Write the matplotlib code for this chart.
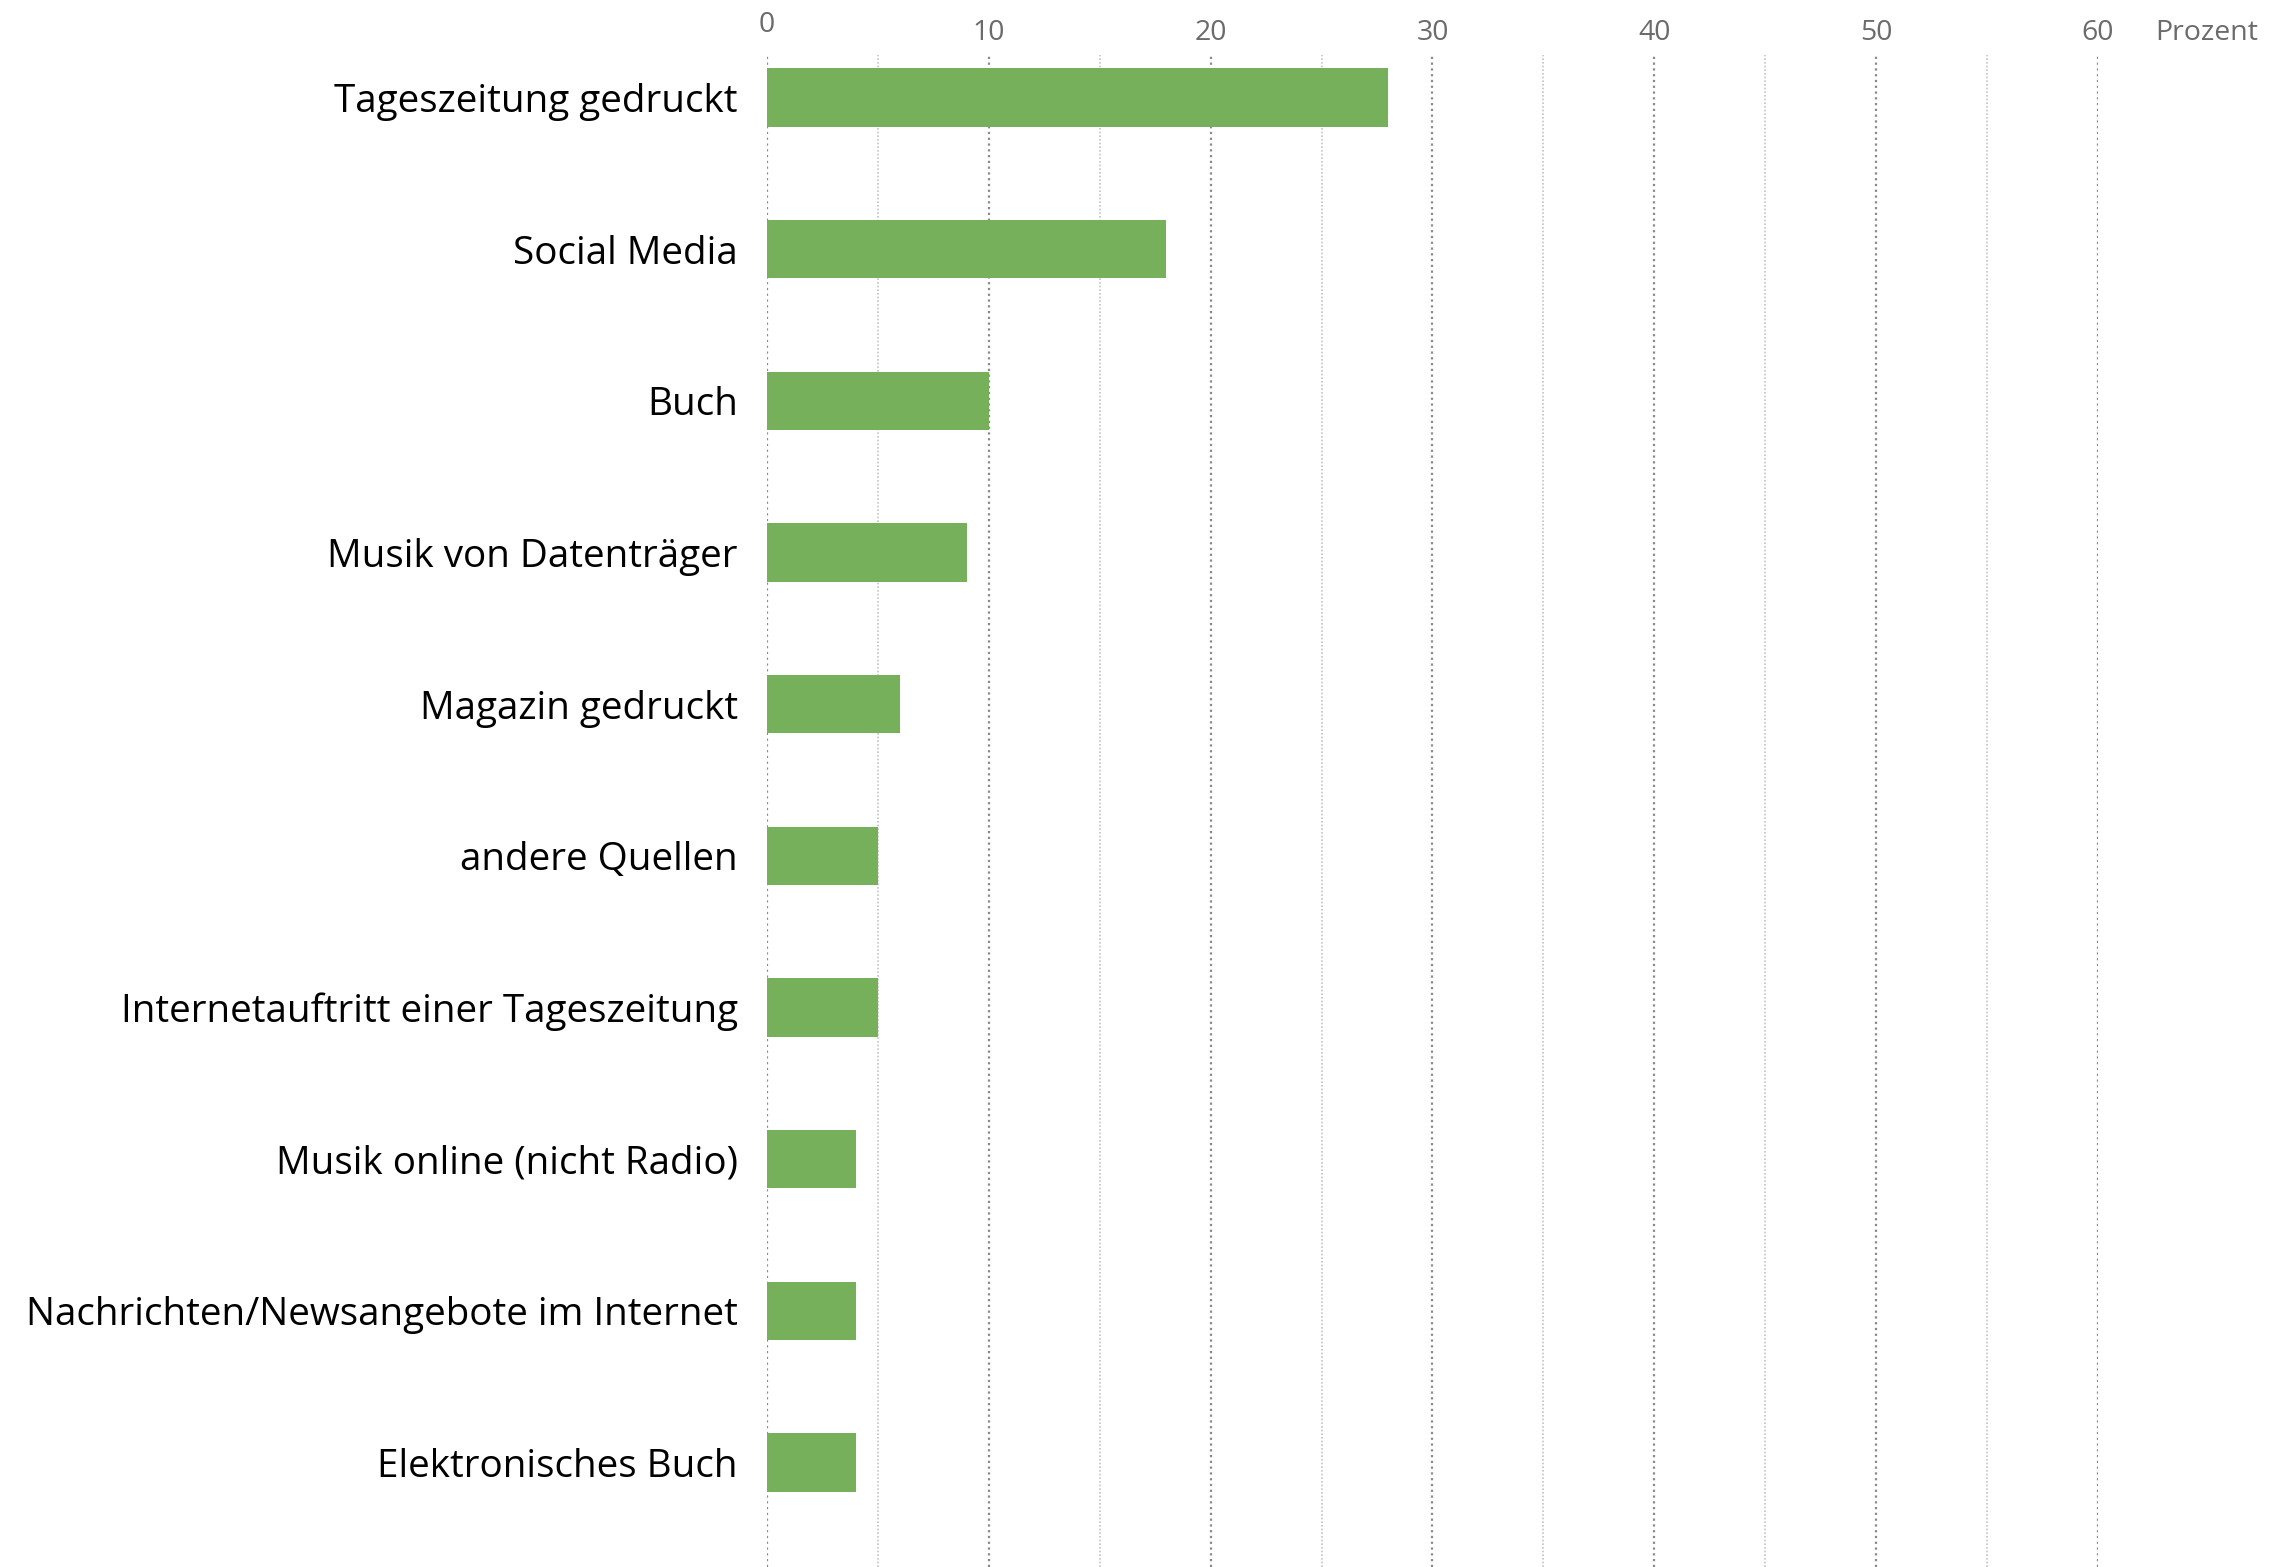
import numpy as np
import matplotlib.pyplot as plt
from matplotlib.transforms import blended_transform_factory, offset_copy

# Categories (top to bottom) and their values in percent
categories = [
    "Tageszeitung gedruckt",
    "Social Media",
    "Buch",
    "Musik von Datenträger",
    "Magazin gedruckt",
    "andere Quellen",
    "Internetauftritt einer Tageszeitung",
    "Musik online (nicht Radio)",
    "Nachrichten/Newsangebote im Internet",
    "Elektronisches Buch",
]
values = [28, 18, 10, 9, 6, 5, 5, 4, 4, 4]
major_ticks = [0, 10, 20, 30, 40, 50, 60]
minor_ticks = [5, 15, 25, 35, 45, 55]
unit_label = "Prozent"

plt.rcParams['font.family'] = ['Open Sans', 'DejaVu Sans']

fig = plt.figure(figsize=(22.81, 15.67), dpi=100)
ax = fig.add_axes([0.3362, 0.0, 0.9198 - 0.3362, 0.9649])

y = np.arange(len(categories))
ax.barh(y, values, height=0.385, color='#77b05a', zorder=3)

ax.set_xlim(0, 60)
ax.set_ylim(9.69, -0.28)

# dotted vertical grid lines
for v in major_ticks:
    ax.axvline(v, color='#8a8a8a', lw=1.6, ls=(0, (1, 1.6)), zorder=1)
for v in minor_ticks:
    ax.axvline(v, color='#c4c4c4', lw=1.2, ls=(0, (1, 1.2)), zorder=1)

for s in ax.spines.values():
    s.set_visible(False)

ax.set_xticks([])
ax.set_yticks(y)
ax.set_yticklabels(categories, fontsize=27.8, color='black')
ax.tick_params(axis='y', length=0, pad=21)

# tick labels on top
trans = blended_transform_factory(ax.transData, ax.transAxes)
for v in major_ticks:
    dy = 30 if v == 0 else 22
    t = offset_copy(trans, fig=fig, x=0, y=dy, units='dots')
    ax.text(v, 1.0, str(v), transform=t, ha='center', va='center',
            fontsize=20.5, color='#6b6b6b', clip_on=False)
t = offset_copy(trans, fig=fig, x=0, y=22, units='dots')
ax.text(62.6, 1.0, unit_label, transform=t, ha='left', va='center',
        fontsize=20.5, color='#6b6b6b', clip_on=False)

plt.savefig('out.png', dpi=100)
